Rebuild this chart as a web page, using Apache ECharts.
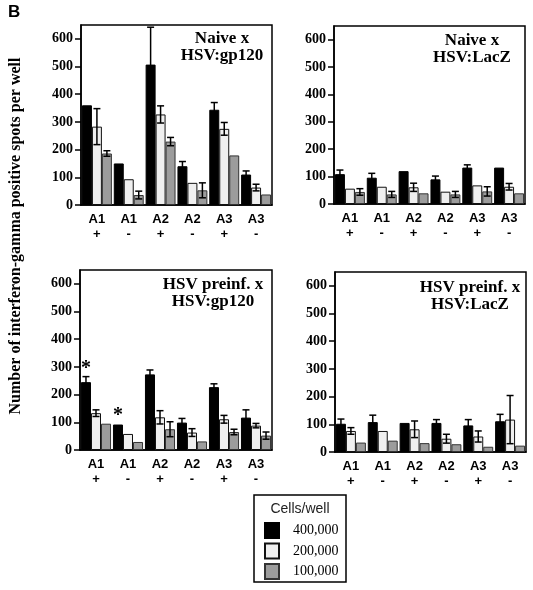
<!DOCTYPE html>
<html><head><meta charset="utf-8">
<script src="https://cdn.jsdelivr.net/npm/echarts@6/dist/echarts.min.js"></script>
<style>html,body{margin:0;padding:0;background:#fff}#c{width:533px;height:590px}</style>
</head><body><div id="c"></div><script>
const categories = ['A1','A1','A2','A2','A3','A3'];
const signs = ['+','-','+','-','+','-'];
const seriesNames = ['400,000','200,000','100,000'];
const yTicks = [0,100,200,300,400,500,600];
const panelTitles = ['Naive x\nHSV:gp120','Naive x\nHSV:LacZ','HSV preinf. x\nHSV:gp120','HSV preinf. x\nHSV:LacZ'];
const yAxisTitle = 'Number of interferon-gamma positive spots per well';

// Panel 1: Naive x HSV:gp120
const p1_400k = [360,150,507,140,344,110];
const p1_200k = [283,93,327,80,275,63];
const p1_100k = [186,36,229,53,179,38];
const p1_400kErr = [0,0,135,17,26,13];
const p1_200kErr = [65,0,31,0,23,12];
const p1_100kErr = [10,14,15,27,0,0];

// Panel 2: Naive x HSV:LacZ
const p2_400k = [109,96,120,90,133,133];
const p2_200k = [56,63,61,45,68,63];
const p2_100k = [44,35,39,35,46,39];
const p2_400kErr = [15,16,0,12,10,0];
const p2_200kErr = [0,0,15,0,0,12];
const p2_100kErr = [12,11,0,11,17,0];

// Panel 3: HSV preinf. x HSV:gp120
const p3_400k = [245,92,273,99,227,117];
const p3_200k = [133,58,118,63,111,88];
const p3_100k = [95,29,75,31,65,52];
const p3_400kErr = [20,0,16,15,12,28];
const p3_200kErr = [12,0,24,14,14,8];
const p3_100kErr = [0,0,27,0,10,13];
const p3_stars = [true,true,false,false,false,false];

// Panel 4: HSV preinf. x HSV:LacZ
const p4_400k = [102,108,105,105,96,111];
const p4_200k = [76,76,82,48,56,117];
const p4_100k = [34,41,32,28,19,23];
const p4_400kErr = [17,25,0,12,21,25];
const p4_200kErr = [12,0,30,16,20,87];
const p4_100kErr = [0,0,0,0,0,0];

const panels = [
  {vals:[p1_400k,p1_200k,p1_100k], errs:[p1_400kErr,p1_200kErr,p1_100kErr]},
  {vals:[p2_400k,p2_200k,p2_100k], errs:[p2_400kErr,p2_200kErr,p2_100kErr]},
  {vals:[p3_400k,p3_200k,p3_100k], errs:[p3_400kErr,p3_200kErr,p3_100kErr], stars:p3_stars},
  {vals:[p4_400k,p4_200k,p4_100k], errs:[p4_400kErr,p4_200kErr,p4_100kErr]}
];

const grids = [
  {left:81, top:25, width:191, height:180},
  {left:334, top:26, width:191, height:178},
  {left:80, top:270, width:192, height:180},
  {left:335, top:272, width:191, height:180}
];
const titlePos = [
  {x:222, y:30}, {x:472, y:32}, {x:213, y:276}, {x:470, y:279}
];
const fills = ['#000000','#efefef','#9c9c9c'];
const borders = ['#000000','#111111','#333333'];
const catGap = 0.06;
const serif = '"Liberation Serif","Times New Roman",serif';
const sans = '"Liberation Sans",Arial,sans-serif';

const xCats = categories.map((c,i)=>c+'\n'+signs[i]);

const option = {
  animation:false,
  backgroundColor:'#fff',
  grid: grids.map(g=>Object.assign({show:true, borderColor:'#000', borderWidth:1.5, backgroundColor:'transparent'}, g)),
  title: panelTitles.map((t,i)=>({
    text:t, left:titlePos[i].x, top:titlePos[i].y, textAlign:'center', padding:0,
    textStyle:{fontFamily:serif, fontWeight:'bold', fontSize:17, lineHeight:17, color:'#000'}
  })),
  xAxis: grids.map((g,i)=>({
    type:'category', gridIndex:i, data:xCats,
    axisLine:{lineStyle:{color:'#000', width:1.5}},
    axisTick:{show:false},
    axisLabel:{
      margin:7, interval:0,
      formatter:(v)=>{const p=v.split('\n'); return '{a|'+p[0]+'}\n{b|'+p[1]+'}';},
      rich:{
        a:{fontFamily:sans, fontWeight:'bold', fontSize:13, lineHeight:15, color:'#000'},
        b:{fontFamily:sans, fontWeight:'bold', fontSize:13, lineHeight:15, color:'#000'}
      }
    }
  })),
  yAxis: grids.map((g,i)=>({
    type:'value', gridIndex:i, min:0, max:650, interval:100,
    splitLine:{show:false},
    axisLine:{show:true, lineStyle:{color:'#000', width:1.5}},
    axisTick:{show:true, length:6, customValues:yTicks, lineStyle:{color:'#000', width:1.5}},
    axisLabel:{margin:8, customValues:yTicks, fontFamily:serif, fontWeight:'bold', fontSize:14, color:'#000'}
  })),
  legend:{
    left:264, top:522, orient:'vertical', itemWidth:14, itemHeight:15, itemGap:3.5,
    selectedMode:false, icon:'rect', data:seriesNames, padding:0,
    textStyle:{fontFamily:serif, fontSize:14, color:'#000', padding:[0,0,0,9]}
  },
  graphic:[
    {type:'text', left:8, top:4, style:{text:'B', font:'bold 17px '+sans, fill:'#000'}},
    {type:'text', x:16, y:236, rotation:Math.PI/2,
     style:{text:yAxisTitle, font:'bold 16px '+serif, fill:'#000', align:'center', verticalAlign:'middle'}},
    {type:'rect', shape:{x:254, y:495, width:92, height:87}, style:{fill:'none', stroke:'#000', lineWidth:1.5}},
    {type:'text', x:300, y:509, style:{text:'Cells/well', font:'14px '+sans, fill:'#222', align:'center', verticalAlign:'middle'}}
  ],
  series:[]
};

panels.forEach((p,gi)=>{
  p.vals.forEach((arr,si)=>{
    option.series.push({
      type:'bar', name:seriesNames[si], xAxisIndex:gi, yAxisIndex:gi,
      barGap:'0%', barCategoryGap:(catGap*100)+'%',
      itemStyle:{color:fills[si], borderColor:borders[si], borderWidth:1},
      data: arr.map((v,ci)=>{
        if (si===0 && p.stars && p.stars[ci]) {
          return {value:v, label:{show:true, position:'top', distance:(p.errs[si][ci]>0?3:-1), formatter:'*',
            fontFamily:serif, fontWeight:'bold', fontSize:20, color:'#000'}};
        }
        return v;
      }),
      z:2
    });
  });
  const errData = [];
  p.vals.forEach((arr,si)=>{
    arr.forEach((v,ci)=>{
      const e = p.errs[si][ci];
      if (e>0) errData.push([ci, v-e, v+e, si]);
    });
  });
  option.series.push({
    type:'custom', xAxisIndex:gi, yAxisIndex:gi, z:5, silent:true,
    data:errData,
    renderItem:(params, api)=>{
      const ci = api.value(0), lo = api.value(1), hi = api.value(2), si = api.value(3);
      const catW = api.size([1,0])[0];
      const bw = catW*(1-catGap)/3;
      const cx = api.coord([ci,0])[0] + (si-1)*bw;
      const yt = api.coord([ci,hi])[1];
      const yb = api.coord([ci,lo])[1];
      const half = 3.5;
      const st = {stroke:'#000', lineWidth:1.5};
      return {type:'group', children:[
        {type:'line', shape:{x1:cx, y1:yt, x2:cx, y2:yb}, style:st},
        {type:'line', shape:{x1:cx-half, y1:yt, x2:cx+half, y2:yt}, style:st},
        {type:'line', shape:{x1:cx-half, y1:yb, x2:cx+half, y2:yb}, style:st}
      ]};
    }
  });
});

const chart = echarts.init(document.getElementById('c'), null, {renderer:'canvas'});
chart.setOption(option);
</script></body></html>
